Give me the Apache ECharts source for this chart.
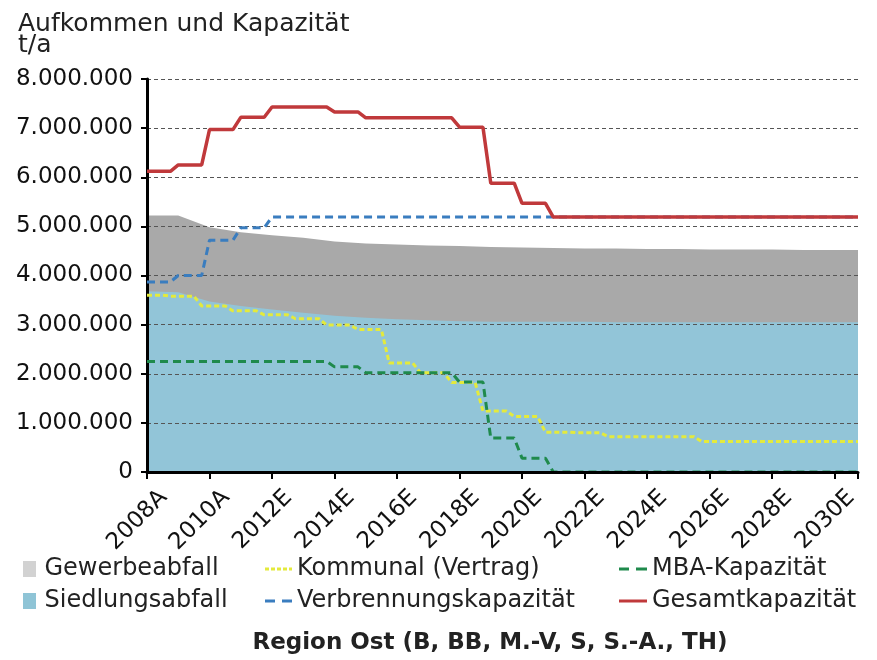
<!DOCTYPE html>
<html>
<head>
<meta charset="utf-8">
<script src="https://cdn.jsdelivr.net/npm/echarts@6/dist/echarts.min.js"></script>
<style>
  html, body { margin: 0; padding: 0; background: #fff; }
  #chart { width: 877px; height: 660px; }
</style>
</head>
<body>
<div id="chart"></div>
<script>
// Jahre (Kategorien) und Achsbeschriftungen
const years = [2008, 2009, 2010, 2011, 2012, 2013, 2014, 2015, 2016, 2017, 2018, 2019,
  2020, 2021, 2022, 2023, 2024, 2025, 2026, 2027, 2028, 2029, 2030];
const tickLabels = ['2008A', '2010A', '2012E', '2014E', '2016E', '2018E', '2020E',
  '2022E', '2024E', '2026E', '2028E', '2030E'];

// Aufkommen (t/a), gestapelte Flächen
const siedlungsabfall = [3680000, 3660000, 3470000, 3380000, 3310000, 3240000, 3180000, 3140000,
  3110000, 3090000, 3070000, 3060000, 3060000, 3060000, 3060000, 3050000, 3050000, 3050000,
  3050000, 3050000, 3050000, 3050000, 3050000];
const gewerbeabfall = [1540000, 1560000, 1510000, 1500000, 1510000, 1530000, 1510000, 1510000,
  1520000, 1520000, 1530000, 1520000, 1510000, 1500000, 1490000, 1500000, 1490000, 1490000,
  1480000, 1480000, 1480000, 1470000, 1470000];

// Kapazitäten (t/a), je Jahr ein Wert
const kommunal = [3600000, 3580000, 3380000, 3280000, 3200000, 3120000, 2990000, 2900000,
  2220000, 2020000, 1820000, 1240000, 1130000, 810000, 800000, 720000, 720000, 720000,
  620000, 620000, 620000, 620000, 620000];
const verbrennung = [3870000, 4000000, 4720000, 4970000, 5190000, 5190000, 5190000, 5190000,
  5190000, 5190000, 5190000, 5190000, 5190000, 5190000, 5190000, 5190000, 5190000, 5190000,
  5190000, 5190000, 5190000, 5190000, 5190000];
const mba = [2250000, 2250000, 2250000, 2250000, 2250000, 2250000, 2140000, 2020000,
  2020000, 2020000, 1830000, 690000, 280000, 0, 0, 0, 0, 0, 0, 0, 0, 0, 0];
const gesamt = [6120000, 6250000, 6970000, 7220000, 7430000, 7430000, 7330000, 7210000,
  7210000, 7210000, 7020000, 5880000, 5470000, 5190000, 5190000, 5190000, 5190000, 5190000,
  5190000, 5190000, 5190000, 5190000, 5190000];

const xMin = 2008;
const xMax = 2030.75;

// Flächen: ein Punkt pro Jahr, letzter Wert bis zum Achsenende
function areaPoints(values) {
  const pts = values.map((v, i) => [years[i], v]);
  pts.push([xMax, values[values.length - 1]]);
  return pts;
}

// Stufenlinie: Jahreswert gilt von y+from bis y+to, dazwischen Rampe
function stepPoints(values, from, to) {
  const pts = [];
  values.forEach((v, i) => {
    const x0 = Math.max(xMin, years[i] + from);
    const x1 = i === values.length - 1 ? xMax : years[i] + to;
    pts.push([x0, v], [x1, v]);
  });
  return pts;
}

// Gewerbeabfall liegt auf dem Siedlungsabfall (Summe als obere Kante)
const aufkommenSumme = siedlungsabfall.map((v, i) => v + gewerbeabfall[i]);

const fmt = v => String(v).replace(/\B(?=(\d{3})+(?!\d))/g, '.');
const FONT = 'DejaVu Sans';

const chart = echarts.init(document.getElementById('chart'));

const lineSeries = (name, data, color, type, width, z) => ({
  name: name,
  type: 'line',
  data: data,
  symbol: 'none',
  z: z,
  color: color,
  lineStyle: { color: color, width: width, type: type },
  emphasis: { disabled: true }
});

const legendText = { fontFamily: FONT, fontSize: 24, color: '#222', lineHeight: 26 };

const option = {
  animation: false,
  backgroundColor: '#fff',
  textStyle: { fontFamily: FONT },
  title: [
    {
      text: 'Aufkommen und Kapazität\nt/a',
      left: 18,
      top: 14,
      padding: 0,
      textStyle: { fontFamily: FONT, fontSize: 25, fontWeight: 'normal', color: '#222', lineHeight: 21 }
    },
    {
      text: 'Region Ost (B, BB, M.-V, S, S.-A., TH)',
      left: 485,
      top: 627,
      textAlign: 'center',
      textStyle: { fontFamily: FONT, fontSize: 23, fontWeight: 'bold', color: '#222' }
    }
  ],
  legend: [
    {
      left: 23, top: 556, padding: 0, orient: 'vertical', selectedMode: false,
      itemWidth: 20, itemHeight: 16, itemGap: 6,
      textStyle: legendText,
      data: [
        { name: 'Gewerbeabfall', icon: 'path://M0,0h13v16h-13z', itemStyle: { color: '#d2d2d2' } },
        { name: 'Siedlungsabfall', icon: 'path://M0,0h13v16h-13z', itemStyle: { color: '#8fc4d6' } }
      ]
    },
    {
      left: 265, top: 556, padding: 0, orient: 'vertical', selectedMode: false,
      itemWidth: 27, itemHeight: 3, itemGap: 6, symbolKeepAspect: false,
      itemStyle: { borderWidth: 0 },
      textStyle: legendText,
      data: [
        { name: 'Kommunal (Vertrag)', icon: 'path://M0,0h4v3h-4z M6,0h4v3h-4z M12,0h4v3h-4z M18,0h4v3h-4z M24,0h3v3h-3z' },
        { name: 'Verbrennungskapazität', icon: 'path://M0,0h10v3h-10z M17,0h10v3h-10z' }
      ]
    },
    {
      left: 619, top: 556, padding: 0, orient: 'vertical', selectedMode: false,
      itemWidth: 28, itemHeight: 3, itemGap: 6, symbolKeepAspect: false,
      itemStyle: { borderWidth: 0 },
      textStyle: legendText,
      data: [
        { name: 'MBA-Kapazität', icon: 'path://M0,0h10v3h-10z M17,0h11v3h-11z' },
        { name: 'Gesamtkapazität', icon: 'path://M0,0h28v3h-28z' }
      ]
    }
  ],
  grid: { left: 147, right: 19, top: 79, bottom: 188 },
  xAxis: {
    type: 'value',
    min: xMin,
    max: xMax,
    interval: 2,
    z: 5,
    axisLine: { lineStyle: { color: '#000', width: 3 } },
    axisTick: { show: true, length: 7, lineStyle: { color: '#000', width: 2 } },
    splitLine: { show: false },
    axisLabel: {
      rotate: 45,
      margin: 11,
      fontFamily: FONT,
      fontSize: 23,
      color: '#111',
      verticalAlign: 'top',
      padding: [8, -4, 0, 0],
      showMaxLabel: true,
      formatter: v => tickLabels[(v - xMin) / 2] || ''
    }
  },
  yAxis: {
    type: 'value',
    min: 0,
    max: 8000000,
    interval: 1000000,
    z: 2,
    axisLine: { show: true, lineStyle: { color: '#000', width: 3 } },
    axisTick: { show: true, length: 6, lineStyle: { color: '#000', width: 2 } },
    splitLine: { show: true, lineStyle: { color: '#555', width: 1, type: [4, 3] } },
    axisLabel: { margin: 14, fontFamily: FONT, fontSize: 23, color: '#111', formatter: fmt }
  },
  series: [
    {
      name: 'Gewerbeabfall', type: 'line', symbol: 'none', z: 1,
      data: areaPoints(aufkommenSumme), color: '#a9a9a9',
      lineStyle: { width: 0 }, areaStyle: { color: '#a9a9a9', opacity: 1 },
      emphasis: { disabled: true }
    },
    {
      name: 'Siedlungsabfall', type: 'line', symbol: 'none', z: 1,
      data: areaPoints(siedlungsabfall), color: '#8fc4d6',
      lineStyle: { width: 0 }, areaStyle: { color: '#92c5d8', opacity: 1 },
      emphasis: { disabled: true }
    },
    lineSeries('Kommunal (Vertrag)', stepPoints(kommunal, -0.25, 0.5), '#e4ea3c', [5, 3], 3, 3),
    lineSeries('MBA-Kapazität', stepPoints(mba, 0, 0.75), '#1f8a4c', [8, 5], 3, 3),
    lineSeries('Verbrennungskapazität', stepPoints(verbrennung, 0, 0.75), '#3a7dbf', [8, 5], 3, 3),
    lineSeries('Gesamtkapazität', stepPoints(gesamt, 0, 0.75), '#c0393b', 'solid', 3.5, 4)
  ]
};

chart.setOption(option);
</script>
</body>
</html>
